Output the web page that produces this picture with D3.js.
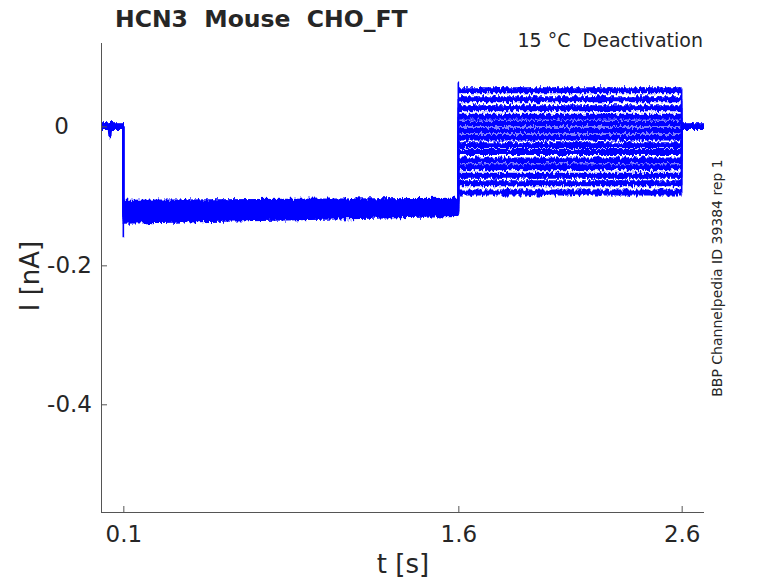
<!DOCTYPE html>
<html>
<head>
<meta charset="utf-8" />
<title>HCN3 Mouse CHO_FT</title>
<script src="https://d3js.org/d3.v7.min.js"></script>
<style>
body { margin: 0; background: #fff; }
svg text { font-family: "DejaVu Sans", sans-serif; fill: #262626; white-space: pre; }
.axis path, .axis line { stroke: #555; }
.sweep { fill: none; stroke: #0000ff; }
</style>
</head>
<body>
<svg id="chart" width="778" height="583"></svg>
<script>
// protocol times (s)
var tHoldEnd = 0.1;
var tPreEnd = 1.6;
var tTestEnd = 2.6;
var tEnd = 2.7;

// current levels per sweep (nA)
var holdLevel = [0, 0, 0, 0, 0, 0, 0, 0, 0, 0, 0, 0, 0, 0];
var preStart = [-0.112, -0.129, -0.117, -0.134, -0.110, -0.124, -0.120, -0.131, -0.114, -0.127, -0.116, -0.136, -0.122, -0.111];
var preEnd = [-0.109, -0.122, -0.113, -0.125, -0.107, -0.118, -0.115, -0.123, -0.111, -0.120, -0.112, -0.126, -0.117, -0.108];
var testLevel = [0.052, 0.039, 0.026, 0.014, 0.004, -0.006, -0.016, -0.027, -0.037, -0.049, -0.059, -0.071, -0.082, -0.095];
var tailLevel = [0, 0, 0, 0, 0, 0, 0, 0, 0, 0, 0, 0, 0, 0];

// capacitive transients and a glitch in the first sweep
var spikeOn = -0.158;
var spikeOff = 0.063;
var glitchT = [0.036, 0.040, 0.044];
var glitchI = [0, -0.017, 0];

var xTicks = [0.1, 1.6, 2.6];
var yTicks = [0, -0.2, -0.4];

var svg = d3.select("#chart");
var x = d3.scaleLinear().domain([0, 2.7]).range([101, 704]);
var y = d3.scaleLinear().domain([-0.555, 0.12]).range([512, 43]);

// recording noise look: vertical-only jitter of the drawn traces
var defs = svg.append("defs");
var flt = defs.append("filter")
    .attr("id", "noisy")
    .attr("filterUnits", "userSpaceOnUse")
    .attr("x", 90).attr("y", 40).attr("width", 630).attr("height", 220);
flt.append("feTurbulence")
    .attr("type", "fractalNoise")
    .attr("baseFrequency", "0.45 0.15")
    .attr("numOctaves", 2)
    .attr("seed", 3)
    .attr("result", "turb");
flt.append("feColorMatrix")
    .attr("in", "turb")
    .attr("type", "matrix")
    .attr("values", "0 0 0 0 0.5  0 1 0 0 0  0 0 1 0 0  0 0 0 0 1")
    .attr("result", "map");
flt.append("feDisplacementMap")
    .attr("in", "SourceGraphic")
    .attr("in2", "map")
    .attr("scale", 7)
    .attr("xChannelSelector", "R")
    .attr("yChannelSelector", "G");

var line = d3.line()
    .x(function(d) { return x(d[0]); })
    .y(function(d) { return y(d[1]); });

var traces = svg.append("g").attr("filter", "url(#noisy)");

// thin outlines with the step transitions
holdLevel.forEach(function(h, i) {
    var pts = [[0, h], [tHoldEnd, h], [tHoldEnd, i == 0 ? spikeOn : preStart[i]], [tHoldEnd, preStart[i]],
        [tPreEnd, preEnd[i]], [tPreEnd, i == 0 ? spikeOff : testLevel[i]], [tPreEnd, testLevel[i]],
        [tTestEnd, testLevel[i]], [tTestEnd, tailLevel[i]], [tEnd, tailLevel[i]]];
    traces.append("path")
        .attr("class", "sweep")
        .attr("stroke-width", 1.6)
        .attr("d", line(pts));
});

// noisy bands drawn as thick segments
holdLevel.forEach(function(h, i) {
    var segs = [
        [[0, h], [tHoldEnd, h]],
        [[tHoldEnd, preStart[i]], [tPreEnd, preEnd[i]]],
        [[tPreEnd, testLevel[i]], [tTestEnd, testLevel[i]]],
        [[tTestEnd, tailLevel[i]], [tEnd, tailLevel[i]]]
    ];
    var widths = [7, 6, 6, 7];
    segs.forEach(function(s, j) {
        traces.append("path")
            .attr("class", "sweep")
            .attr("stroke-width", widths[j])
            .attr("stroke-linecap", "butt")
            .attr("d", line(s));
    });
});

traces.append("path")
    .attr("class", "sweep")
    .attr("stroke-width", 3)
    .attr("d", line(glitchT.map(function(t, k) { return [t, glitchI[k]]; })));

// axes
svg.append("g")
    .attr("class", "axis")
    .attr("transform", "translate(0,512)")
    .call(d3.axisBottom(x).tickValues(xTicks).tickSize(-6).tickSizeOuter(0).tickPadding(14).tickFormat(d3.format(".1f")))
    .call(function(g) {
        g.select(".domain").attr("d", "M101,0.5H704");
        g.selectAll("text").style("font-size", "23px");
    });

svg.append("g")
    .attr("class", "axis")
    .attr("transform", "translate(101,0)")
    .call(d3.axisLeft(y).tickValues(yTicks).tickSize(-6).tickSizeOuter(0).tickPadding(9)
        .tickFormat(function(d) { return d == 0 ? "0" : d3.format(".1f")(d).replace("−", "-"); }))
    .call(function(g) {
        g.select(".domain").attr("d", "M0.5,43V512");
        g.selectAll("text").style("font-size", "23px");
        g.selectAll("text").filter(function(d) { return d == 0; }).attr("dx", -23);
    });

// labels
svg.append("text")
    .attr("x", 403).attr("y", 573)
    .attr("text-anchor", "middle")
    .style("font-size", "26px")
    .text("t [s]");

svg.append("text")
    .attr("transform", "translate(39,276) rotate(-90)")
    .attr("text-anchor", "middle")
    .style("font-size", "26px")
    .text("I [nA]");

svg.append("text")
    .attr("x", 115).attr("y", 27)
    .style("font-size", "23.5px")
    .style("font-weight", "bold")
    .text("HCN3  Mouse  CHO_FT");

svg.append("text")
    .attr("x", 703).attr("y", 47)
    .attr("text-anchor", "end")
    .style("font-size", "19px")
    .text("15 °C  Deactivation");

svg.append("text")
    .attr("transform", "translate(722,278) rotate(-90)")
    .attr("text-anchor", "middle")
    .style("font-size", "14px")
    .text("BBP Channelpedia ID 39384 rep 1");
</script>
</body>
</html>
